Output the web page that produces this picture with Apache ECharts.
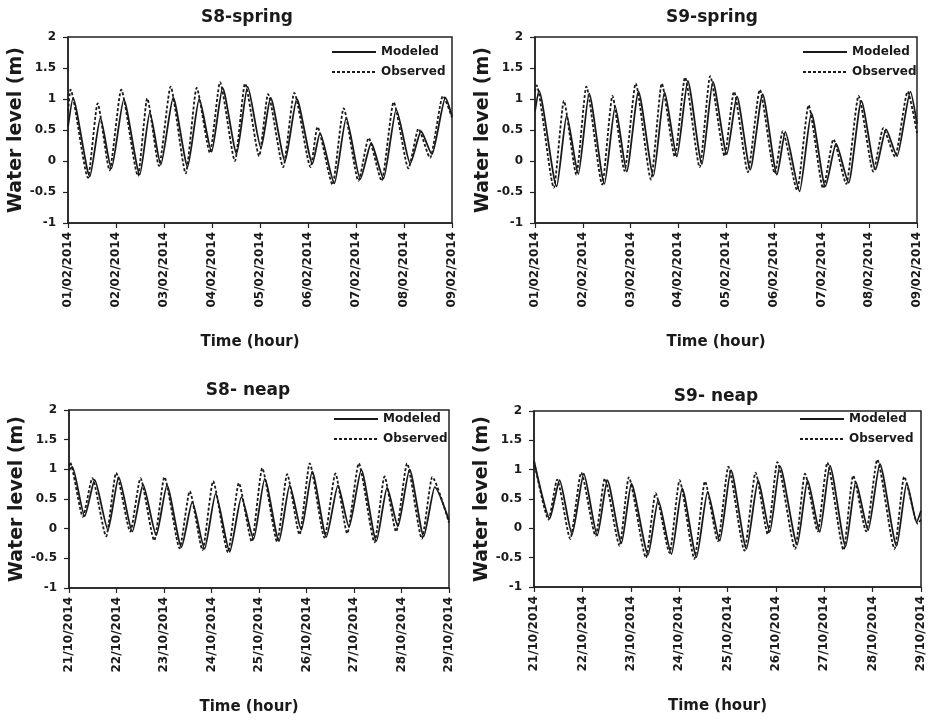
<!DOCTYPE html>
<html>
<head>
<meta charset="utf-8">
<script src="https://cdn.jsdelivr.net/npm/echarts@6/dist/echarts.min.js"></script>
<style>
html,body{margin:0;padding:0;background:#ffffff;}
#chart{width:931px;height:723px;}
</style>
</head>
<body>
<div id="chart"></div>
<script>
// ---- tick labels ----
const springTicks = ['01/02/2014','02/02/2014','03/02/2014','04/02/2014','05/02/2014','06/02/2014','07/02/2014','08/02/2014','09/02/2014'];
const neapTicks = ['21/10/2014','22/10/2014','23/10/2014','24/10/2014','25/10/2014','26/10/2014','27/10/2014','28/10/2014','29/10/2014'];
const seriesNames = ['Modeled', 'Observed'];
const panelTitles = ['S8-spring', 'S9-spring', 'S8- neap', 'S9- neap'];

// ---- series values: [hour since start, water level (m)] ----
const s8SpringModeled = [[0,0.55],[2.5,1.01],[10.9,-0.25],[16.2,0.69],[21.7,-0.12],[27.9,0.99],[35.9,-0.22],[40.9,0.78],[46.4,-0.06],[52.6,1.02],[59.8,-0.09],[65.6,1.0],[71.8,0.15],[77.3,1.18],[84.3,0.12],[89.8,1.2],[96.5,0.21],[101.3,1.02],[108.5,0.0],[114.4,1.0],[122.2,-0.04],[126.0,0.45],[133.2,-0.36],[139.1,0.69],[146.1,-0.29],[151.6,0.29],[157.8,-0.28],[164.1,0.83],[171.1,-0.04],[176.5,0.48],[182.0,0.11],[188.7,1.02],[192,0.72]];
const s8SpringObserved = [[0,0.8],[1.2,1.15],[10.0,-0.27],[14.8,0.93],[20.8,-0.15],[26.6,1.15],[35.0,-0.24],[39.6,1.01],[45.5,-0.08],[51.3,1.2],[58.9,-0.2],[64.3,1.18],[71.0,0.13],[76.0,1.27],[83.5,0.0],[88.5,1.25],[95.6,0.08],[100.0,1.08],[107.6,-0.1],[113.1,1.1],[121.3,-0.1],[124.7,0.55],[132.3,-0.38],[137.8,0.85],[145.2,-0.32],[150.3,0.37],[156.9,-0.32],[162.8,0.95],[170.2,-0.12],[175.2,0.52],[181.1,0.05],[187.4,1.05],[192,0.7]];

const s9SpringModeled = [[0,0.8],[2.0,1.13],[10.9,-0.41],[15.9,0.73],[21.8,-0.21],[27.2,1.09],[34.9,-0.37],[40.3,0.88],[46.1,-0.17],[52.0,1.12],[59.5,-0.24],[65.1,1.11],[71.3,0.07],[76.8,1.29],[83.9,-0.05],[89.4,1.28],[96.4,0.11],[101.5,1.04],[108.2,-0.14],[114.4,1.08],[121.6,-0.22],[125.8,0.47],[133.0,-0.49],[138.9,0.77],[145.9,-0.41],[151.3,0.28],[157.7,-0.35],[164.0,0.97],[171.1,-0.14],[176.4,0.51],[182.0,0.08],[188.7,1.12],[192,0.6]];
const s9SpringObserved = [[0,1.12],[0.8,1.22],[9.5,-0.43],[14.5,0.97],[20.8,-0.22],[25.8,1.2],[33.8,-0.38],[38.9,1.05],[45.0,-0.16],[50.6,1.25],[58.3,-0.3],[63.7,1.25],[70.3,0.07],[75.4,1.35],[82.8,-0.1],[88.0,1.37],[95.3,0.08],[100.0,1.12],[107.0,-0.18],[113.0,1.15],[120.5,-0.2],[124.5,0.48],[131.8,-0.47],[137.5,0.9],[144.8,-0.44],[150.0,0.35],[156.5,-0.37],[162.6,1.05],[170.0,-0.17],[175.0,0.53],[181.0,0.07],[187.3,1.12],[192,0.45]];

const s8NeapModeled = [[0,0.98],[1.7,1.04],[7.9,0.21],[13.0,0.82],[19.7,-0.02],[25.1,0.87],[32.0,-0.05],[37.4,0.74],[44.1,-0.11],[49.5,0.73],[56.8,-0.31],[62.3,0.45],[68.5,-0.34],[74.1,0.59],[81.2,-0.39],[87.1,0.53],[93.3,-0.17],[98.9,0.84],[106.1,-0.21],[111.5,0.73],[117.4,-0.02],[122.9,0.96],[130.0,-0.14],[135.9,0.73],[141.5,0.03],[147.7,0.99],[155.3,-0.21],[160.7,0.69],[166.2,0.04],[172.1,1.0],[179.2,-0.13],[184.8,0.7],[192,0.14]];
const s8NeapObserved = [[0,1.05],[0.5,1.12],[7.0,0.2],[11.8,0.85],[18.8,-0.13],[23.8,0.94],[31.0,-0.05],[36.1,0.85],[43.1,-0.2],[48.2,0.87],[55.9,-0.33],[61.0,0.63],[67.5,-0.36],[72.8,0.8],[80.3,-0.4],[85.8,0.77],[92.4,-0.22],[97.6,1.02],[105.2,-0.22],[110.2,0.92],[116.5,-0.1],[121.6,1.1],[129.1,-0.15],[134.6,0.93],[140.6,-0.08],[146.4,1.1],[154.4,-0.23],[159.4,0.88],[165.3,-0.05],[170.8,1.1],[178.3,-0.17],[183.5,0.87],[192,0.1]];

const s9NeapModeled = [[0,1.15],[7.8,0.17],[12.7,0.82],[18.9,-0.1],[24.7,0.93],[31.4,-0.12],[36.4,0.82],[43.4,-0.25],[48.3,0.76],[56.6,-0.45],[61.6,0.48],[68.2,-0.44],[73.5,0.68],[80.6,-0.49],[86.1,0.62],[92.2,-0.21],[97.7,0.99],[105.4,-0.35],[111.2,0.82],[117.0,-0.06],[122.0,1.06],[130.6,-0.28],[135.7,0.82],[141.8,-0.06],[146.8,1.07],[154.6,-0.31],[159.6,0.79],[165.8,-0.03],[171.6,1.1],[179.9,-0.3],[184.9,0.77],[189.8,0.11],[192,0.3]];
const s9NeapObserved = [[0,1.15],[7.2,0.15],[11.5,0.83],[18.0,-0.18],[23.4,0.95],[30.6,-0.13],[35.1,0.85],[42.5,-0.3],[47.0,0.87],[55.6,-0.5],[60.3,0.6],[67.3,-0.42],[72.2,0.82],[79.6,-0.52],[84.8,0.8],[91.3,-0.22],[96.4,1.05],[104.4,-0.38],[109.9,0.95],[116.0,-0.1],[120.7,1.13],[129.6,-0.35],[134.4,0.93],[140.8,-0.05],[145.5,1.12],[153.6,-0.37],[158.3,0.9],[164.8,-0.05],[170.3,1.17],[178.9,-0.35],[183.6,0.88],[190.3,0.08],[192,0.15]];

// ---- layout ----
const FONT = 'DejaVu Sans';
const INK = '#1a1a1a';
const panels = [
  {ticks: springTicks, mod: s8SpringModeled, obs: s8SpringObserved, grid: {left: 68, top: 37, width: 384, height: 186}, tx: 247, ty: 18, lx: 331, ly: 46},
  {ticks: springTicks, mod: s9SpringModeled, obs: s9SpringObserved, grid: {left: 535, top: 37, width: 382, height: 186}, tx: 712, ty: 18, lx: 802, ly: 46},
  {ticks: neapTicks, mod: s8NeapModeled, obs: s8NeapObserved, grid: {left: 69, top: 410, width: 380, height: 178}, tx: 248, ty: 391, lx: 333, ly: 413},
  {ticks: neapTicks, mod: s9NeapModeled, obs: s9NeapObserved, grid: {left: 534, top: 411, width: 387, height: 176}, tx: 716, ty: 397, lx: 799, ly: 413}
];

const boldText = (size) => ({fontFamily: FONT, fontWeight: 'bold', fontSize: size, color: INK});

const option = {
  animation: false,
  backgroundColor: '#ffffff',
  graphic: panels.map((p, i) => ({
    type: 'text', x: p.tx, y: p.ty,
    style: {text: panelTitles[i], align: 'center', verticalAlign: 'middle', font: 'bold 17px "DejaVu Sans"', fill: INK}
  })),
  legend: panels.map((p) => ({
    left: p.lx, top: p.ly, padding: 0, orient: 'vertical', itemWidth: 44, itemHeight: 14, itemGap: 8,
    selectedMode: false, data: seriesNames, textStyle: boldText(12),
    itemStyle: {opacity: 0, color: 'transparent', borderWidth: 0}
  })),
  grid: panels.map((p) => Object.assign({show: true, borderColor: '#222', borderWidth: 1.5, backgroundColor: 'transparent'}, p.grid)),
  xAxis: panels.map((p, i) => ({
    gridIndex: i, type: 'value', min: 0, max: 192, interval: 24,
    axisLine: {show: true, onZero: false, lineStyle: {color: '#222', width: 1.5}},
    axisTick: {show: true, length: 5, lineStyle: {color: '#222', width: 1.2}},
    splitLine: {show: false},
    axisLabel: Object.assign({rotate: 90, margin: 9, formatter: (v) => p.ticks[Math.round(v / 24)]}, boldText(12)),
    name: 'Time (hour)', nameLocation: 'middle', nameGap: 112,
    nameTextStyle: Object.assign({padding: [0, 20, 0, 0]}, boldText(15))
  })),
  yAxis: panels.map((p, i) => ({
    gridIndex: i, type: 'value', min: -1, max: 2, interval: 0.5,
    axisLine: {show: true, lineStyle: {color: '#222', width: 1.5}},
    axisTick: {show: true, length: 5, lineStyle: {color: '#222', width: 1.2}},
    splitLine: {show: false},
    axisLabel: Object.assign({margin: 12}, boldText(12)),
    name: 'Water level (m)', nameLocation: 'middle', nameGap: 41,
    nameTextStyle: boldText(19)
  })),
  series: panels.flatMap((p, i) => [
    {name: seriesNames[0], type: 'line', xAxisIndex: i, yAxisIndex: i, data: p.mod, symbol: 'none',
     smooth: 0.2, smoothMonotone: 'x', itemStyle: {color: INK}, lineStyle: {color: INK, width: 1.8, type: 'solid'}},
    {name: seriesNames[1], type: 'line', xAxisIndex: i, yAxisIndex: i, data: p.obs, symbol: 'none',
     smooth: 0.2, smoothMonotone: 'x', itemStyle: {color: INK}, lineStyle: {color: INK, width: 1.8, type: [3, 2]}}
  ])
};

const chart = echarts.init(document.getElementById('chart'), null, {renderer: 'canvas'});
chart.setOption(option);
</script>
</body>
</html>
